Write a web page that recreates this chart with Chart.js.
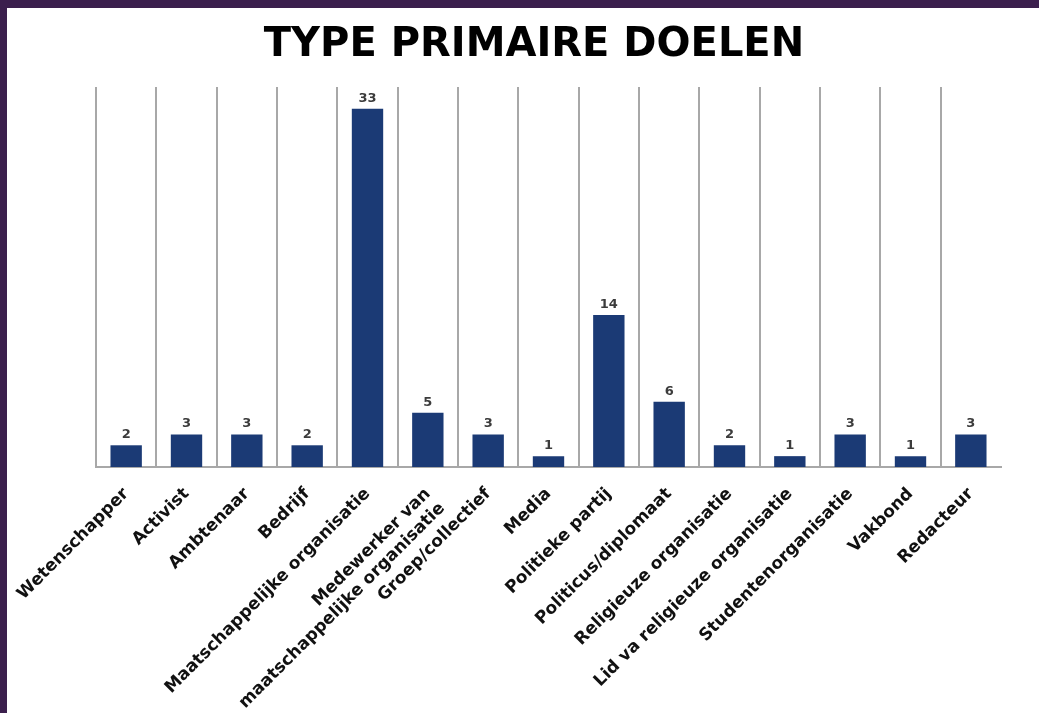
<!DOCTYPE html>
<html>
<head>
<meta charset="utf-8">
<script src="https://cdn.jsdelivr.net/npm/chart.js@4/dist/chart.umd.min.js"></script>
<style>
  html, body { margin: 0; padding: 0; background: #ffffff; width: 1039px; height: 713px; overflow: hidden; }
  #frame { position: absolute; left: 0; top: 0; width: 1039px; height: 713px; box-sizing: border-box; border-top: 8px solid #3b1f4d; border-left: 7px solid #3b1f4d; background: #fff; }
  #wrap { position: absolute; left: 7px; top: 8px; width: 1032px; height: 705px; }
</style>
</head>
<body>
<div id="frame"></div>
<div id="wrap"><canvas id="c"></canvas></div>
<script>
const chartTitle = 'TYPE PRIMAIRE DOELEN';
const categories = [
  'Wetenschapper',
  'Activist',
  'Ambtenaar',
  'Bedrijf',
  'Maatschappelijke organisatie',
  ['Medewerker van', 'maatschappelijke organisatie'],
  'Groep/collectief',
  'Media',
  'Politieke partij',
  'Politicus/diplomaat',
  'Religieuze organisatie',
  'Lid va religieuze organisatie',
  'Studentenorganisatie',
  'Vakbond',
  'Redacteur'
];
const counts = [2, 3, 3, 2, 33, 5, 3, 1, 14, 6, 2, 1, 3, 1, 3];
const yRange = [0, 35];

const valueLabels = {
  id: 'valueLabels',
  afterDatasetsDraw(chart) {
    const ctx = chart.ctx;
    const meta = chart.getDatasetMeta(0);
    ctx.save();
    ctx.font = 'bold 13px "DejaVu Sans", sans-serif';
    ctx.fillStyle = '#3c3c3c';
    ctx.textAlign = 'center';
    ctx.textBaseline = 'bottom';
    meta.data.forEach((bar, i) => {
      ctx.fillText(String(chart.data.datasets[0].data[i]), bar.x, bar.y - 4);
    });
    ctx.restore();
  }
};

new Chart(document.getElementById('c'), {
  type: 'bar',
  data: {
    labels: categories,
    datasets: [{
      data: counts,
      backgroundColor: '#1b3a75',
      borderWidth: 0,
      categoryPercentage: 1.0,
      barPercentage: 0.52
    }]
  },
  options: {
    responsive: true,
    maintainAspectRatio: false,
    animation: false,
    layout: { padding: { left: 22, right: 0, top: 0, bottom: 0 } },
    plugins: {
      legend: { display: false },
      tooltip: { enabled: false },
      title: {
        display: true,
        text: chartTitle,
        color: '#000000',
        font: { family: '"DejaVu Sans", sans-serif', size: 40, weight: 'bold' },
        padding: { top: 14, bottom: 17 }
      }
    },
    scales: {
      x: {
        offset: true,
        grid: {
          display: true,
          offset: true,
          drawTicks: false,
          lineWidth: 2,
          color: (ctx) => (ctx.type === 'tick' ? '#a8a8a8' : 'rgba(0,0,0,0)')
        },
        border: { display: true, color: '#a8a8a8', width: 2 },
        ticks: {
          autoSkip: false,
          minRotation: 45,
          maxRotation: 45,
          padding: 17,
          color: '#111111',
          font: { family: '"DejaVu Sans", sans-serif', size: 17, weight: 'bold' }
        },
        afterFit: (s) => { s.height = 246; s.paddingLeft = 0; s.paddingRight = 0; }
      },
      y: {
        position: 'left',
        min: yRange[0],
        max: yRange[1],
        display: true,
        grid: { display: false },
        border: { display: false },
        ticks: { display: false },
        afterFit: (s) => { s.width = 67; }
      },
      y2: {
        type: 'linear',
        position: 'right',
        min: yRange[0],
        max: yRange[1],
        display: true,
        grid: { display: false },
        border: { display: false },
        ticks: { display: false },
        afterFit: (s) => { s.width = 38; }
      }
    }
  },
  plugins: [valueLabels]
});
</script>
</body>
</html>
